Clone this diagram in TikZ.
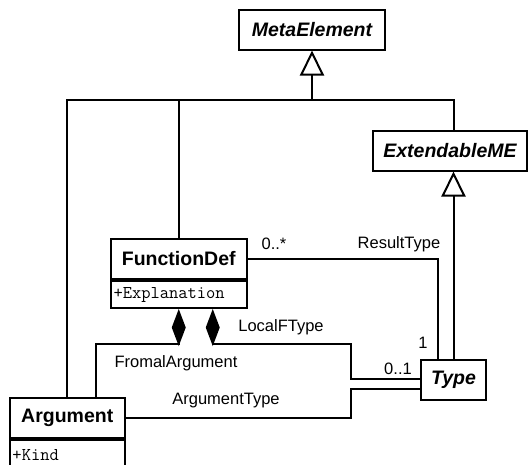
\documentclass[tikz,border=0pt]{standalone}
\usepackage{fontspec}
\setmainfont{Liberation Sans}
\usetikzlibrary{positioning}
\usetikzlibrary{arrows.meta}
\tikzstyle{classbox}=[draw,line width=2pt,fill=white,minimum height=40pt,inner sep=0pt,font=\fontsize{19.5}{22}\selectfont\bfseries]
\tikzstyle{abstractbox}=[classbox,font=\fontsize{19.5}{22}\selectfont\bfseries\itshape]
\tikzstyle{attrbox}=[draw,line width=2pt,fill=white,inner sep=0pt,align=left,font=\fontsize{18}{20}\selectfont\ttfamily]
\tikzstyle{edge} = [draw,line width=2pt]
\tikzstyle{genedge} = [edge,-{Triangle[open,length=25pt,width=24pt]}]
\tikzstyle{compedge} = [edge,-{Diamond[length=37pt,width=14pt]}]
\tikzstyle{role} = [font=\fontsize{16.5}{19}\selectfont]

\begin{document}
\begin{tikzpicture}[x=1pt,y=-1pt]
\useasboundingbox (0,0) rectangle (528,464);

    % abstract classes
    \foreach \pos/\name/\label/\w in {{(312,29.5)/meta/MetaElement/146}, {(450,150.5)/ext/ExtendableME/154}, {(453.5,380)/type/Type/65}}
        \node[abstractbox,minimum width=\w pt] (\name) at \pos {\label};

    % classes with one attribute
    \foreach \pos/\name/\label/\w/\tw/\attr/\h in {{(178.75,259)/fdef/FunctionDef/136.5/130.5/+Explanation/27}, {(67.25,418)/arg/Argument/115.5/109.5/+Kind/30}}
    {
        \node[classbox,minimum width=\w pt] (\name) at \pos {\label};
        \node[attrbox,minimum width=\w pt,text width=\tw pt,minimum height=\h pt,below=0pt of \name] (\name-attr) {\attr};
    }

    % generalisation
    \coordinate (genbar) at (312,100);
    \draw[genedge] (genbar) -- (meta);
    \draw[edge] (arg.north) |- (genbar) -| (type.north |- ext.north);
    \draw[edge] (fdef.north) -- (fdef.north |- genbar);
    \draw[genedge] (type.north) -- (type.north |- ext.south);

    % associations
    \coordinate (bend) at (351,344);
    \coordinate (typehigh) at ([yshift=1pt]type.west);
    \coordinate (typelow) at ([yshift=-9pt]type.west);
    \draw[edge] (fdef.east) -| ([xshift=-16pt]type.north);
    \draw[compedge] (typehigh) -| (bend) -| ([xshift=34pt]fdef-attr.south);
    \draw[compedge] ([xshift=28.75pt]arg.north) |- (fdef-attr.south |- bend) -- (fdef-attr.south);
    \draw[edge] (arg.east) -| (bend |- typelow) -- (typelow);

    % role names and multiplicities
    \node[role] (resmult) at (274,244) {0..*};
    \node[role] (resname) at (399,244) {ResultType};
    \node[role] (resone) at (423,343) {1};
    \node[role] (locname) at (281,327.5) {LocalFType};
    \node[role] (locmult) at (398,369) {0..1};
    \node[role] (formname) at (176,363) {FromalArgument};
    \node[role] (argname) at (226,401) {ArgumentType};

\end{tikzpicture}
\end{document}
